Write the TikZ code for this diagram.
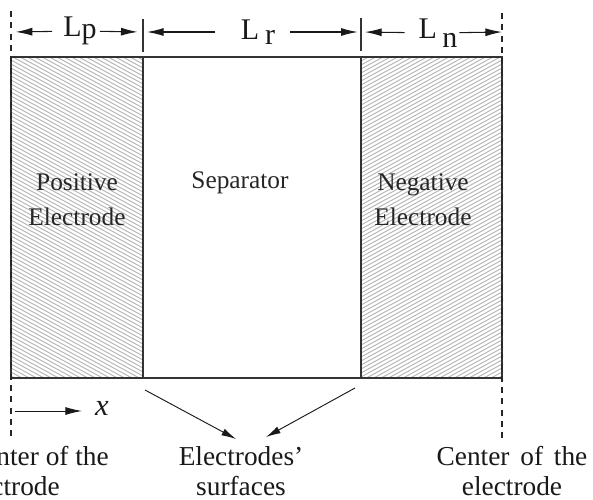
\documentclass[tikz,border=0pt]{standalone}
\usepackage{fontspec}
\setmainfont{Liberation Serif}
\usetikzlibrary{arrows.meta}
\newcommand{\wsp}{\ \hspace{3pt}}
\begin{document}
\begin{tikzpicture}[x=0.75pt,y=-0.75pt,
  edge/.style={draw=black!80, line width=0.8pt},
  hatchline/.style={draw=black!28, line width=0.75pt},
  centerline/.style={draw=black!85, line width=0.8pt, dash pattern=on 4.5pt off 4pt},
  dimtip/.style={draw=black!90, line width=0.8pt, -{Latex[length=12.5pt,width=6pt]}},
  ptr/.style={draw=black!90, line width=0.7pt, -{Latex[length=11pt,width=5.5pt]}},
  dimlbl/.style={font=\fontsize{22.5}{24}\selectfont, text=black!90, inner sep=0pt},
  lbl/.style={font=\fontsize{19}{26}\selectfont, align=center, text=black!85, inner sep=0pt},
  botlbl/.style={font=\fontsize{20.5}{22.5}\selectfont, align=center, text=black!90, inner sep=0pt}
]
\useasboundingbox (0,0) rectangle (593,500);

% hatching of the positive electrode
\begin{scope}
  \clip (11,57) rectangle (143,378);
  \foreach \k in {-80,-76,...,380} \draw[hatchline] (11,\k) -- (143,\k+72);
\end{scope}
% hatching of the negative electrode
\begin{scope}
  \clip (361,57) rectangle (502,378);
  \foreach \k in {57,61,...,460} \draw[hatchline] (361,\k) -- (502,\k-77);
\end{scope}

% cell outline and separator walls
\draw[edge] (11,57) rectangle (502,378);
\draw[edge] (143,57) -- (143,378);
\draw[edge] (361,57) -- (361,378);

% electrode centre lines
\draw[centerline] (11,11) -- (11,441);
\draw[centerline] (502,13) -- (502,441);

% separator ticks
\draw[edge] (143,19) -- (143,52);
\draw[edge] (361,18) -- (361,51);

% dimension anchors
\coordinate (pL) at (11,32);
\coordinate (t1) at (143,32);
\coordinate (t2) at (361,32);
\coordinate (pR) at (502,32);

\node[dimlbl] (Lp) at (80,31) {L\raisebox{-2pt}{p}};
\node[dimlbl] (Lr) at (258,32) {L\hspace{4.5pt}\raisebox{-4pt}{r}};
\node[dimlbl] (Ln) at (438,33) {L\hspace{4pt}\raisebox{-7pt}{n}};

\draw[dimtip, shorten <=21pt, shorten >=3.5pt] (Lp.center) -- (pL);
\draw[dimtip, shorten <=15pt, shorten >=4pt] (Lp.center) -- (t1);
\draw[dimtip, shorten <=32pt, shorten >=3pt] (Lr.center) -- (t1);
\draw[dimtip, shorten <=24pt, shorten >=2.5pt] (Lr.center) -- (t2);
\draw[dimtip, shorten <=25pt, shorten >=3pt] (Ln.center) -- (t2);
\draw[dimtip, shorten <=16pt] (Ln.center) -- (pR);

% region labels
\node[lbl] (pos) at (77,200) {Positive\\Electrode};
\node[lbl] (sep) at (240,183) {Separator};
\node[lbl] (neg) at (423,200) {Negative\\Electrode};

% x axis
\coordinate (x0) at (15,411);
\node[botlbl, font=\fontsize{23}{24}\selectfont\itshape] (xl) at (102,408) {x};
\draw[ptr, -{Latex[length=12.5pt,width=6pt]}, shorten >=15pt] (x0) -- (x0 -| xl.center);

% bottom labels
\node[botlbl] (surf) at (241,471) {Electrodes'\\surfaces};
\node[botlbl, anchor=east] (cl1) at (109,456) {Center of the};
\node[botlbl, anchor=east] (cl2) at (60,486) {electrode};
\node[botlbl] (cr) at (512,471) {Center\wsp of\wsp the\\electrode};

% pointers to the electrode surfaces
\coordinate (s1) at (145,390);
\coordinate (e1) at (236,439);
\coordinate (s2) at (355,388);
\coordinate (e2) at (266,437);
\draw[ptr] (s1) -- (e1);
\draw[ptr] (s2) -- (e2);
\end{tikzpicture}
\end{document}
